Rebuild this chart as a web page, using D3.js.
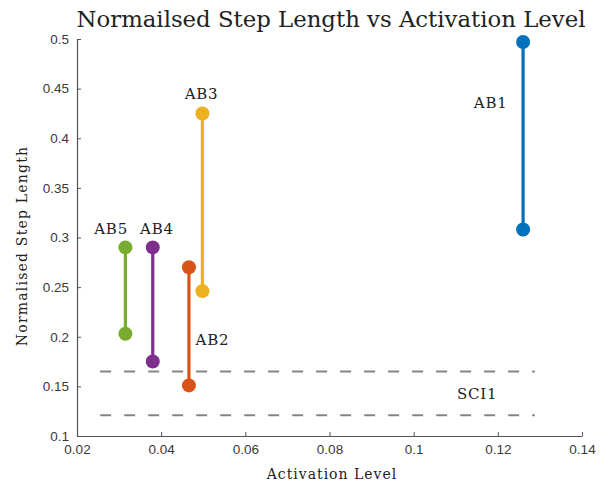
<!DOCTYPE html>
<html>
<head>
<meta charset="utf-8">
<script src="https://cdn.jsdelivr.net/npm/d3@7"></script>
<style>
  body { margin: 0; background: #fff; }
  .axis text { font-family: 'Liberation Sans', Arial, sans-serif; font-size: 13.5px; fill: #3a3a3a; }
  .axis path, .axis line { stroke: #555; }
  .serif { font-family: 'DejaVu Serif', 'Liberation Serif', serif; fill: #222; }
</style>
</head>
<body>
<div id="chart"></div>
<script>
// subjects and their activation level / step length range
let subjects = ['AB1', 'AB2', 'AB3', 'AB4', 'AB5']
let activation = [0.126, 0.0466, 0.0498, 0.038, 0.0315]
let stepHigh = [0.497, 0.27, 0.425, 0.29, 0.29]
let stepLow = [0.308, 0.151, 0.246, 0.175, 0.203]
let colours = ['#0072BD', '#D95319', '#EDB120', '#7E2F8E', '#77AC30']

// SCI1 reference band (dashed)
let sciLevels = [0.165, 0.121]
let sciRange = [0.0255, 0.1288]

let xTicks = [0.02, 0.04, 0.06, 0.08, 0.1, 0.12, 0.14]
let yTicks = [0.1, 0.15, 0.2, 0.25, 0.3, 0.35, 0.4, 0.45, 0.5]

let margin = { top: 39, left: 77, right: 26, bottom: 50 }
let width = 608 - margin.left - margin.right
let height = 486 - margin.top - margin.bottom

let svg = d3
  .select('#chart')
  .append('svg')
  .attr('width', 608)
  .attr('height', 486)

let g = svg.append('g').attr('transform', `translate(${margin.left},${margin.top})`)

let xPositionScale = d3.scaleLinear().domain([0.02, 0.14]).range([0, width])
let yPositionScale = d3.scaleLinear().domain([0.1, 0.5]).range([height, 0])

// axes
let xAxis = d3.axisBottom(xPositionScale)
  .tickValues(xTicks)
  .tickFormat(d => d3.format('')(+d.toFixed(2)))
  .tickSizeInner(-4)
  .tickSizeOuter(0)
  .tickPadding(8)
g.append('g')
  .attr('class', 'axis x-axis')
  .attr('transform', `translate(0,${height})`)
  .call(xAxis)

let yAxis = d3.axisLeft(yPositionScale)
  .tickValues(yTicks)
  .tickFormat(d => d3.format('')(+d.toFixed(2)))
  .tickSizeInner(-4)
  .tickSizeOuter(0)
  .tickPadding(8)
g.append('g')
  .attr('class', 'axis y-axis')
  .call(yAxis)

g.selectAll('.axis .domain').attr('stroke-width', 1.2)

// dashed SCI1 lines
g.selectAll('.sci')
  .data(sciLevels)
  .enter()
  .append('line')
  .attr('class', 'sci')
  .attr('x1', xPositionScale(sciRange[0]))
  .attr('x2', xPositionScale(sciRange[1]))
  .attr('y1', d => yPositionScale(d))
  .attr('y2', d => yPositionScale(d))
  .attr('stroke', '#858585')
  .attr('stroke-width', 2)
  .attr('stroke-dasharray', '11,13')

let rows = subjects.map((s, i) => ({
  name: s,
  x: activation[i],
  hi: stepHigh[i],
  lo: stepLow[i],
  colour: colours[i]
}))

let groups = g.selectAll('.subject')
  .data(rows)
  .enter()
  .append('g')
  .attr('class', 'subject')

groups.append('line')
  .attr('x1', d => xPositionScale(d.x))
  .attr('x2', d => xPositionScale(d.x))
  .attr('y1', d => yPositionScale(d.hi))
  .attr('y2', d => yPositionScale(d.lo))
  .attr('stroke', d => d.colour)
  .attr('stroke-width', 3.2)

groups.selectAll('circle')
  .data(d => [d.hi, d.lo].map(v => ({ x: d.x, y: v, colour: d.colour })))
  .enter()
  .append('circle')
  .attr('cx', d => xPositionScale(d.x))
  .attr('cy', d => yPositionScale(d.y))
  .attr('r', 7)
  .attr('fill', d => d.colour)

// labels (data-space anchors)
let labels = [
  { text: 'AB1', x: 0.1183, y: 0.43 },
  { text: 'AB2', x: 0.0522, y: 0.192 },
  { text: 'AB3', x: 0.0496, y: 0.4394 },
  { text: 'AB4', x: 0.039, y: 0.304 },
  { text: 'AB5', x: 0.0281, y: 0.304 },
  { text: 'SCI1', x: 0.1151, y: 0.1374 }
]

g.selectAll('.label')
  .data(labels)
  .enter()
  .append('text')
  .attr('class', 'label serif')
  .attr('x', d => xPositionScale(d.x))
  .attr('y', d => yPositionScale(d.y))
  .attr('text-anchor', 'middle')
  .attr('font-size', 15)
  .attr('letter-spacing', 0.8)
  .text(d => d.text)

// title and axis titles
svg.append('text')
  .attr('class', 'serif')
  .attr('x', 331)
  .attr('y', 27)
  .attr('text-anchor', 'middle')
  .attr('font-size', 22.8)
  .text('Normailsed Step Length vs Activation Level')

svg.append('text')
  .attr('class', 'serif')
  .attr('x', 332)
  .attr('y', 479)
  .attr('text-anchor', 'middle')
  .attr('font-size', 14)
  .attr('letter-spacing', 1)
  .text('Activation Level')

svg.append('text')
  .attr('class', 'serif')
  .attr('transform', 'translate(27,246) rotate(-90)')
  .attr('text-anchor', 'middle')
  .attr('font-size', 14)
  .attr('letter-spacing', 1.2)
  .text('Normalised Step Length')
</script>
</body>
</html>
